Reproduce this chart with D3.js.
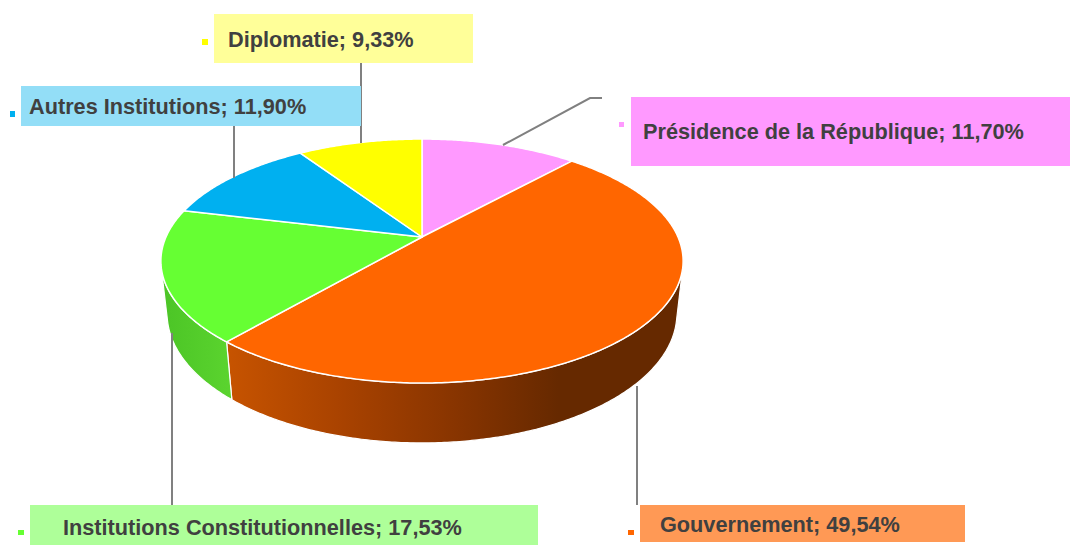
<!DOCTYPE html>
<html>
<head>
<meta charset="utf-8">
<script src="https://cdn.jsdelivr.net/npm/d3@7"></script>
<style>
  html, body { margin: 0; padding: 0; background: #fff; }
  svg { display: block; }
</style>
</head>
<body>
<div id="chart"></div>
<script>
// ---- data ----
const categories = ["Présidence de la République", "Gouvernement", "Institutions Constitutionnelles", "Autres Institutions", "Diplomatie"];
const values = [11.70, 49.54, 17.53, 11.90, 9.33];
const sliceColors = ["#FF99FF", "#FF6600", "#66FF33", "#00B0F0", "#FFFF00"];
const boxColors = ["#FF99FF", "#FF9955", "#AEFF99", "#93DEF7", "#FFFF99"];

// ---- layout (label boxes, leaders) ----
const labelLayout = [
  { box: [631, 97, 439, 69], marker: [619, 122, 5, 5], text: [643, 139], leader: [[503, 145], [590, 98], [602, 98]] },
  { box: [640, 505, 325, 37], marker: [628, 530, 6, 5], text: [660, 532], leader: [[637, 386], [637, 505]] },
  { box: [30, 505, 508, 40], marker: [18, 530, 6, 5], text: [63, 535], leader: [[172, 333], [172, 505]] },
  { box: [21, 86, 340, 40], marker: [10, 111, 5, 6], text: [29, 114], leader: [[234, 178], [234, 126]] },
  { box: [214, 14, 259, 49], marker: [202, 39, 6, 6], text: [228, 47], leader: [[361, 143], [361, 63]] }
];

const W = 1070, H = 545;
const svg = d3.select("#chart").append("svg").attr("width", W).attr("height", H);

const fr = d3.formatLocale({ decimal: ",", thousands: " ", grouping: [3], currency: ["", "€"] });
const fmt = fr.format(".2f");

// ---- 3D perspective projection ----
const cx = 422, cy = 237, Fk = 1155.2, R = 0.2216, T = 0.0516;
const sinP = 0.458, cosP = Math.sqrt(1 - sinP * sinP);
function proj(theta, y) {
  const X = R * Math.sin(theta), Z = R * Math.cos(theta);
  const vert = Z * sinP + y * cosP;
  const depth = 1 + Z * cosP - y * sinP;
  return [cx + Fk * X / depth, cy - Fk * vert / depth];
}

const pie = d3.pie().sort(null).value(d => d)(values);
const data = pie.map((p, i) => ({ ...p, name: categories[i], color: sliceColors[i], box: boxColors[i], lay: labelLayout[i] }));

function arcPts(a0, a1, y) {
  const n = Math.max(2, Math.ceil((a1 - a0) / 0.01));
  const pts = [];
  for (let k = 0; k <= n; k++) pts.push(proj(a0 + (a1 - a0) * k / n, y));
  return pts;
}

// gradients for walls
const defs = svg.append("defs");
const gO = defs.append("linearGradient").attr("id", "wall1").attr("gradientUnits", "userSpaceOnUse")
  .attr("x1", 230).attr("x2", 686).attr("y1", 0).attr("y2", 0);
[[0, "#C65300"], [0.25, "#A84200"], [0.5, "#873400"], [0.72, "#662900"], [1, "#662900"]]
  .forEach(s => gO.append("stop").attr("offset", s[0]).attr("stop-color", s[1]));
const gG = defs.append("linearGradient").attr("id", "wall2").attr("gradientUnits", "userSpaceOnUse")
  .attr("x1", 160).attr("x2", 236).attr("y1", 0).attr("y2", 0);
[[0, "#4BC426"], [1, "#5CD52F"]].forEach(s => gG.append("stop").attr("offset", s[0]).attr("stop-color", s[1]));

// visible wall range
const vis0 = Math.acos(-R / cosP), vis1 = 2 * Math.PI - vis0;
const line = d3.line();

const walls = svg.append("g");
data.forEach((d, i) => {
  const a0 = Math.max(d.startAngle, vis0), a1 = Math.min(d.endAngle, vis1);
  if (a1 <= a0) return;
  const top = arcPts(a0, a1, 0), bot = arcPts(a0, a1, -T).reverse();
  walls.append("path")
    .attr("d", line(top.concat(bot)) + "Z")
    .attr("fill", `url(#wall${i})`)
    .attr("stroke", "#fff").attr("stroke-width", 1.2).attr("stroke-linejoin", "round");
});

const tops = svg.append("g");
data.forEach(d => {
  const pts = [proj(0, 0).map((v, k) => k === 0 ? cx : cy)].concat(arcPts(d.startAngle, d.endAngle, 0));
  tops.append("path")
    .attr("d", line(pts) + "Z")
    .attr("fill", d.color)
    .attr("stroke", "#fff").attr("stroke-width", 1.5).attr("stroke-linejoin", "round");
});

// ---- leaders ----
const leaders = svg.append("g");
data.forEach(d => {
  leaders.append("path").attr("d", line(d.lay.leader))
    .attr("fill", "none").attr("stroke", "#808080").attr("stroke-width", 2);
});

// ---- labels ----
const labels = svg.append("g");
data.forEach(d => {
  const L = d.lay;
  labels.append("rect").attr("x", L.box[0]).attr("y", L.box[1]).attr("width", L.box[2]).attr("height", L.box[3]).attr("fill", d.box);
  labels.append("rect").attr("x", L.marker[0]).attr("y", L.marker[1]).attr("width", L.marker[2]).attr("height", L.marker[3]).attr("fill", d.color);
  labels.append("text").attr("x", L.text[0]).attr("y", L.text[1])
    .attr("font-family", "'Liberation Sans', Arial, sans-serif")
    .attr("font-weight", "bold").attr("font-size", "21.7px").attr("fill", "#404040")
    .text(`${d.name}; ${fmt(d.value)}%`);
});
</script>
</body>
</html>
